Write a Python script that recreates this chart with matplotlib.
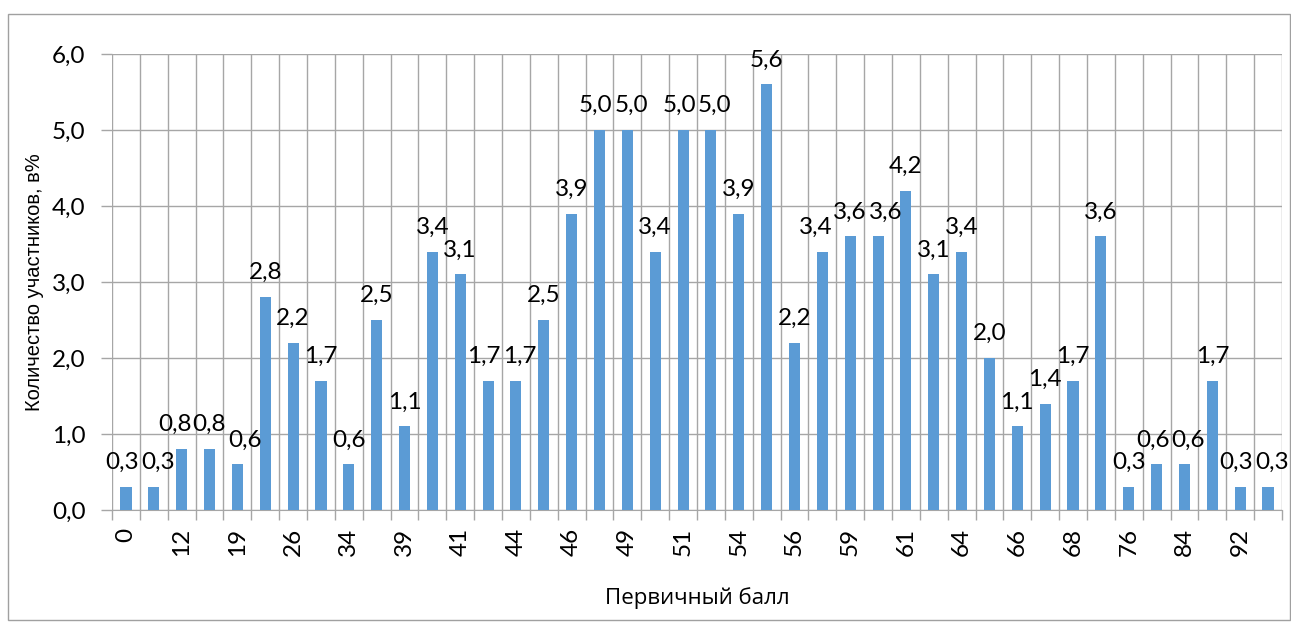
import matplotlib.pyplot as plt
import numpy as np

plt.rcParams['font.family'] = ['Lato', 'DejaVu Sans']

# first score (only every other one is labelled on the axis)
scores = ["0", "6", "12", "16", "19", "23", "26", "30", "34", "37",
          "39", "40", "41", "43", "44", "45", "46", "48", "49", "50",
          "51", "53", "54", "55", "56", "58", "59", "60", "61", "63",
          "64", "65", "66", "67", "68", "72", "76", "80", "84", "88",
          "92", "96"]
percent = [0.3, 0.3, 0.8, 0.8, 0.6, 2.8, 2.2, 1.7, 0.6, 2.5,
           1.1, 3.4, 3.1, 1.7, 1.7, 2.5, 3.9, 5.0, 5.0, 3.4,
           5.0, 5.0, 3.9, 5.6, 2.2, 3.4, 3.6, 3.6, 4.2, 3.1,
           3.4, 2.0, 1.1, 1.4, 1.7, 3.6, 0.3, 0.6, 0.6, 1.7,
           0.3, 0.3]

bar_color = "#5b9bd5"
grid_color = "#a6a6a6"
label_dy = 10

fig = plt.figure(figsize=(12.91, 6.23), dpi=100)
ax = fig.add_axes([112 / 1291, 1 - 510 / 623, (1282 - 112) / 1291, (510 - 54) / 623])

x = np.arange(len(scores))
ax.bar(x, percent, width=0.4, color=bar_color, zorder=3)

labels = []
for xi, v in zip(x, percent):
    labels.append(ax.annotate(f"{v:.1f}".replace(".", ","), (xi, v), xytext=(0, label_dy),
                              textcoords="offset points", ha="center", va="bottom",
                              fontsize=17.5))

ax.set_xlim(-0.5, len(scores) - 0.5)
ax.set_ylim(0, 6)
yt = np.arange(0, 6.01, 1)
ax.set_yticks(yt)
ax.set_yticklabels([f"{t:.1f}".replace(".", ",") for t in yt], fontsize=17.5)

# vertical grid at category boundaries
ax.set_xticks(np.arange(-0.5, len(scores), 1), minor=True)
ax.set_xticks(x[::2])
ax.set_xticklabels(scores[::2], rotation=90, fontsize=17.5)
ax.tick_params(axis="x", which="major", length=0, pad=13)
ax.tick_params(axis="x", which="minor", length=7, color=grid_color, width=1)
ax.tick_params(axis="y", length=8, color=grid_color, width=1, pad=11)

ax.grid(axis="y", which="major", color=grid_color, linewidth=1, zorder=0)
ax.grid(axis="x", which="minor", color=grid_color, linewidth=1, zorder=0)
ax.grid(axis="x", which="major", visible=False)

for s in ["top", "right", "left"]:
    ax.spines[s].set_visible(False)
ax.spines["bottom"].set_color(grid_color)

ax.set_ylabel("Количество участников, в%", fontsize=14.5, labelpad=6,
              family=["Liberation Sans", "DejaVu Sans"])
ax.set_xlabel("Первичный балл", fontsize=16, labelpad=22,
              family=["Open Sans", "DejaVu Sans"])

# push neighbouring value labels apart sideways when they collide
fig.canvas.draw()
renderer = fig.canvas.get_renderer()
offsets = [0.0] * len(labels)
for _ in range(4):
    for i in range(len(labels) - 1):
        a = labels[i].get_window_extent(renderer)
        b = labels[i + 1].get_window_extent(renderer)
        if a.x1 > b.x0 and a.y1 > b.y0 and b.y1 > a.y0:
            gap = (a.x1 - b.x0 + 2) / 2 * 72 / fig.dpi
            offsets[i] -= gap
            offsets[i + 1] += gap
            labels[i].xyann = (offsets[i], label_dy)
            labels[i + 1].xyann = (offsets[i + 1], label_dy)

# outer chart border
fig.patches.append(plt.Rectangle((8 / 1291, 3 / 623), 1282 / 1291, 606 / 623,
                                 transform=fig.transFigure, fill=False,
                                 edgecolor="#a0a0a0", linewidth=1))

fig.savefig("out.png", dpi=100)
